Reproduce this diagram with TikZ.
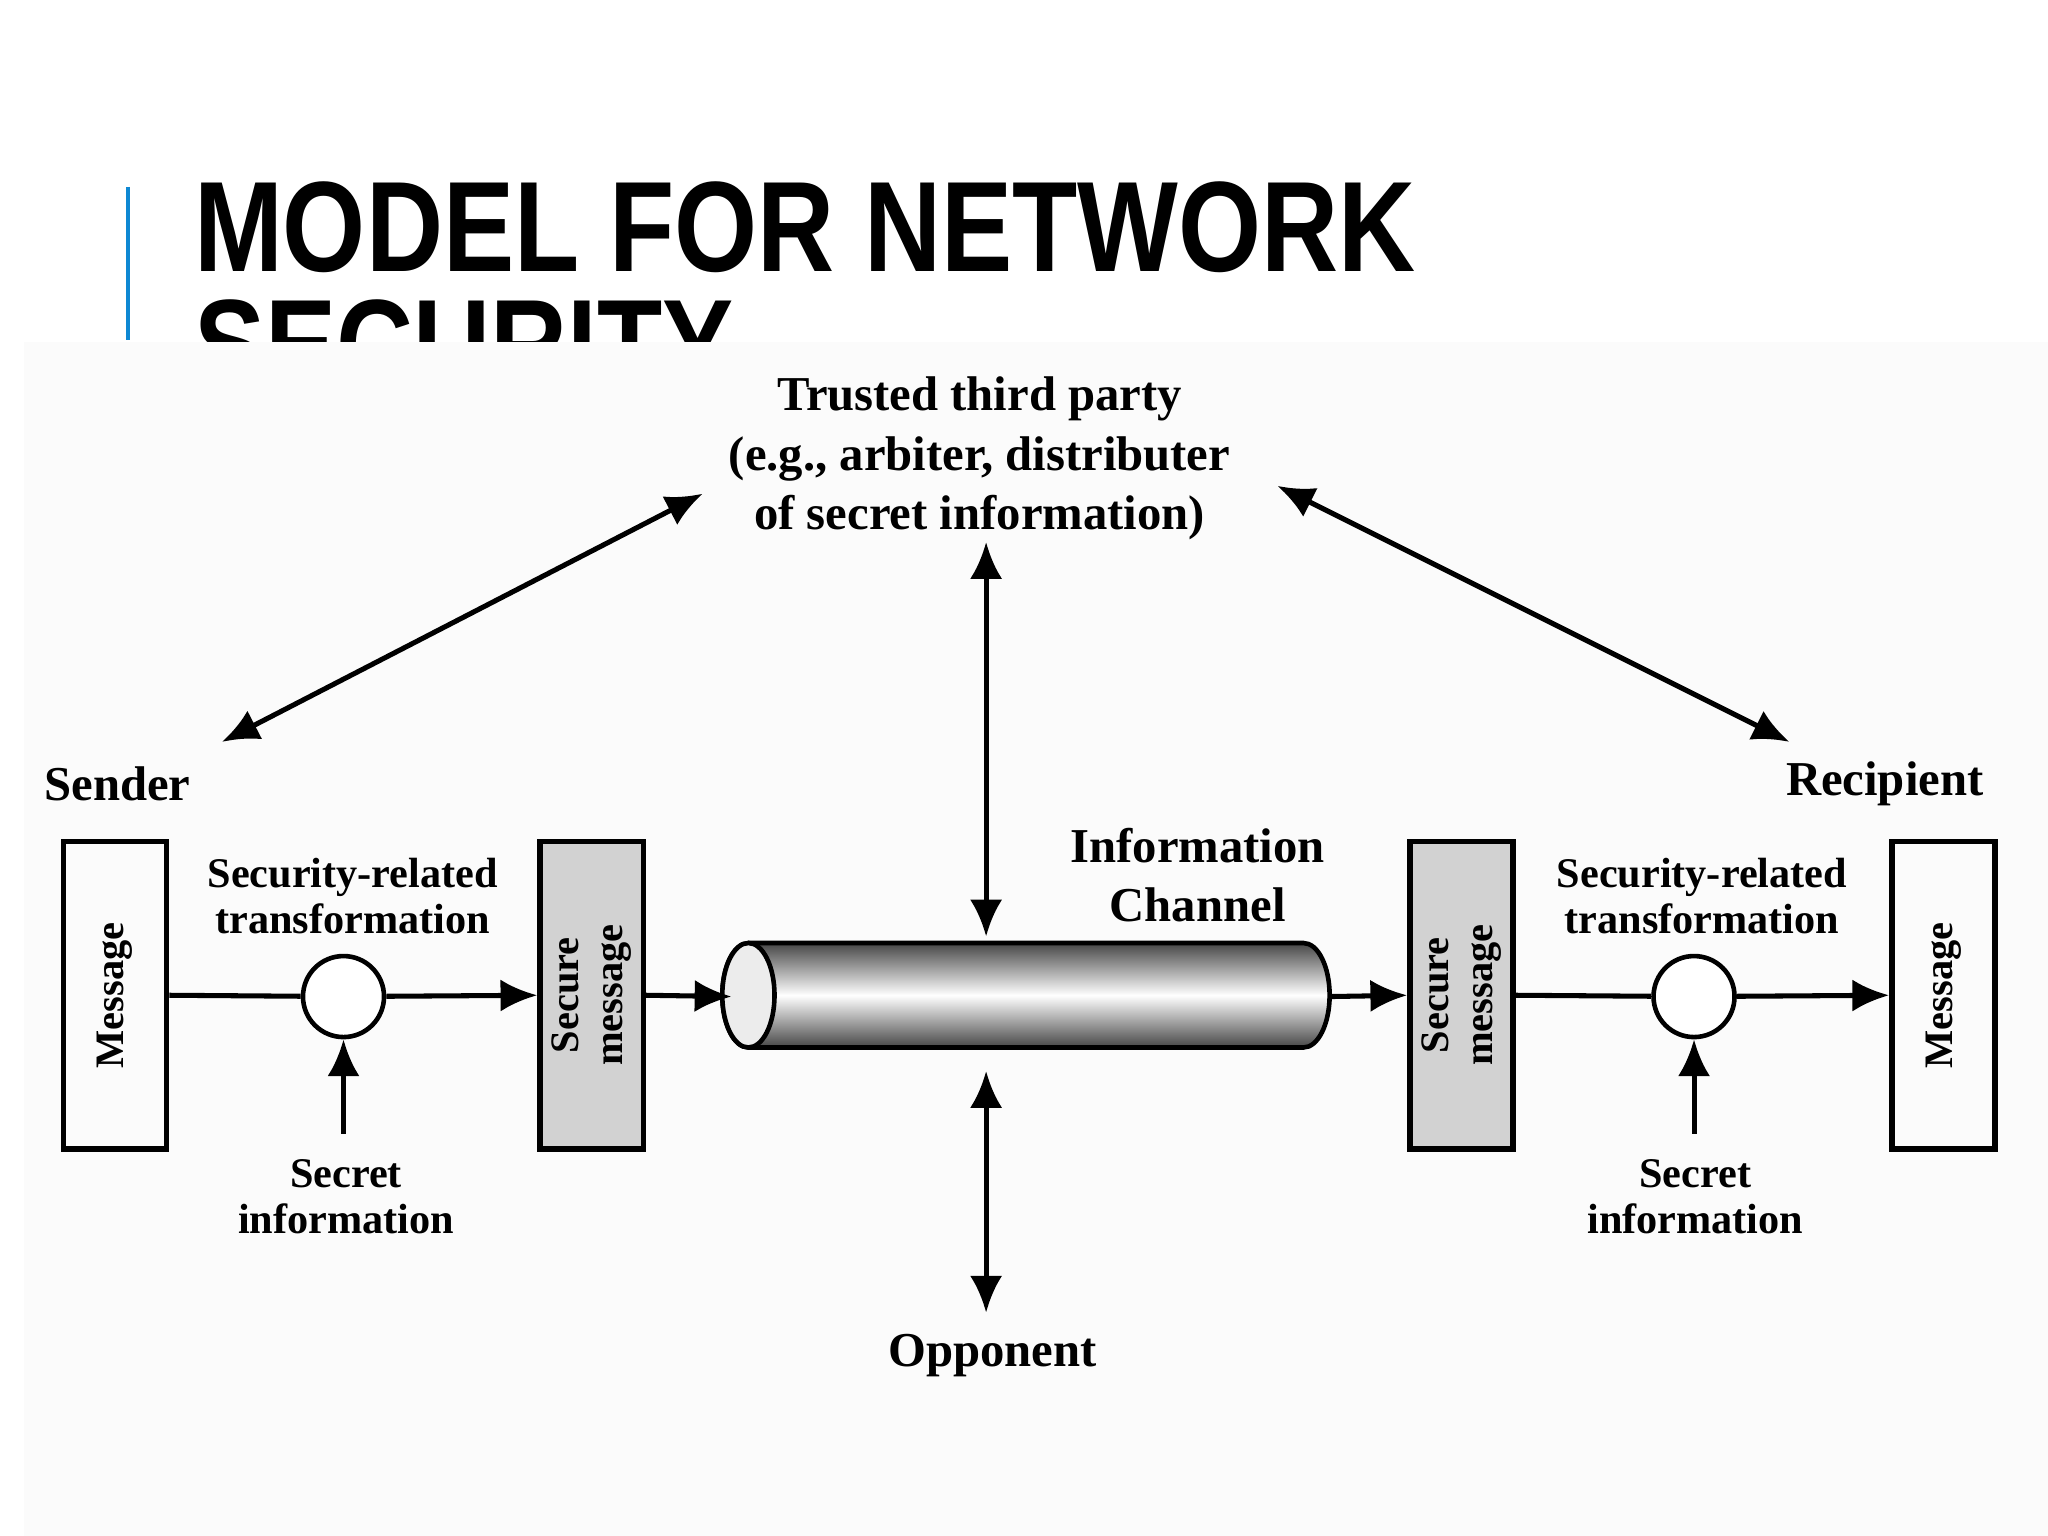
\documentclass[tikz,border=0pt]{standalone}
\usepackage{fontspec}
\setmainfont{Liberation Serif}
\newfontfamily\titlefont{Liberation Sans}
\usetikzlibrary{arrows.meta,positioning}
\tikzset{
  lbl/.style={font=\bfseries\fontsize{9.2pt}{10pt}\selectfont, align=center, inner sep=0pt},
  big/.style={font=\bfseries\fontsize{10.6pt}{13pt}\selectfont},
  box/.style={draw, line width=1.2pt, minimum width=0.79cm, minimum height=2.35cm, inner sep=0pt},
  boxtxt/.style={rotate=90, font=\bfseries\fontsize{8.8pt}{9.5pt}\selectfont, align=center},
  ring/.style={draw, circle, line width=1pt, fill=white, minimum size=0.62cm, inner sep=0pt},
  flow/.style={line width=1.1pt, -{Latex[length=8pt,width=7pt]}},
  both/.style={line width=1.1pt, {Latex[length=8pt,width=7pt]}-{Latex[length=8pt,width=7pt]}}
}
\begin{document}
\begin{tikzpicture}[x=0.01cm,y=-0.01cm]
  \useasboundingbox (0,0) rectangle (1568,1176);
  % title
  \draw[cyan!70!blue, line width=1pt] (98,143) -- (98,260);
  \node[anchor=base west, inner sep=0pt, xscale=0.83, font=\titlefont\bfseries\fontsize{28pt}{34pt}\selectfont] at (148,208) {MODEL FOR NETWORK};
  \node[anchor=base west, inner sep=0pt, xscale=0.83, font=\titlefont\bfseries\fontsize{28pt}{34pt}\selectfont] at (148,298) {SECURITY};
  \fill[gray!3] (18,262) rectangle (1568,1176);
  % boxes
  \node[box] (msgL) at (88,762) {};
  \node[boxtxt] at (msgL) {Message};
  \node[box, fill=gray!35] (secL) at (453,762) {};
  \node[boxtxt] at (secL) {Secure\\message};
  \node[box, fill=gray!35] (secR) at (1119,762) {};
  \node[boxtxt] at (secR) {Secure\\message};
  \node[box] (msgR) at (1488,762) {};
  \node[boxtxt] at (msgR) {Message};
  \node[ring] (trL) at (263,763) {};
  \node[ring] (trR) at (1297,763) {};
  % channel
  \shade[top color=gray!55!black, bottom color=gray!55!black, middle color=white, draw, line width=1pt]
    (573,722) -- (998,722) arc[start angle=-90, end angle=90, x radius=20, y radius=40]
    -- (573,802) arc[start angle=90, end angle=270, x radius=20, y radius=40] -- cycle;
  \draw[fill=gray!15, line width=1pt] (573,762) ellipse[x radius=20, y radius=40];
  \coordinate (chL) at (560,763);
  \coordinate (chR) at (1018,763);
  \coordinate (chT) at (755,717);
  \coordinate (chB) at (755,820);
  % labels
  \node[lbl, big] (ttp) at (750,351) {Trusted third party\\(e.g., arbiter, distributer\\of secret information)};
  \node[lbl, big] (snd) at (90,600) {Sender};
  \node[lbl, big] (rcp) at (1443,600) {Recipient};
  \node[lbl, big] (chn) at (917,670) {Information\\Channel};
  \node[lbl, big] (opp) at (760,1038) {Opponent};
  \node[lbl] at (270,686) {Security-related\\transformation};
  \node[lbl] at (1303,686) {Security-related\\transformation};
  \node[lbl] (skL) at (265,916) {Secret\\information};
  \node[lbl] (skR) at (1298,916) {Secret\\information};
  \coordinate (aL1) at (170,568);
  \coordinate (aL2) at (538,378);
  \coordinate (aR1) at (978,372);
  \coordinate (aR2) at (1370,568);
  \coordinate (aT) at (755,415);
  \coordinate (aB) at (755,1005);
  % connectors
  \draw[line width=1.1pt] (msgL.east) -- (trL);
  \draw[flow] (trL) -- (secL.west);
  \draw[flow] (secL.east) -- (chL);
  \draw[flow] (chR) -- (secR.west);
  \draw[line width=1.1pt] (secR.east) -- (trR);
  \draw[flow] (trR) -- (msgR.west);
  \draw[flow] (263,868) -- (trL);
  \draw[flow] (1297,868) -- (trR);
  \draw[both] (aL1) -- (aL2);
  \draw[both] (aR1) -- (aR2);
  \draw[both] (aT) -- (chT);
  \draw[both] (chB) -- (aB);
\end{tikzpicture}
\end{document}
